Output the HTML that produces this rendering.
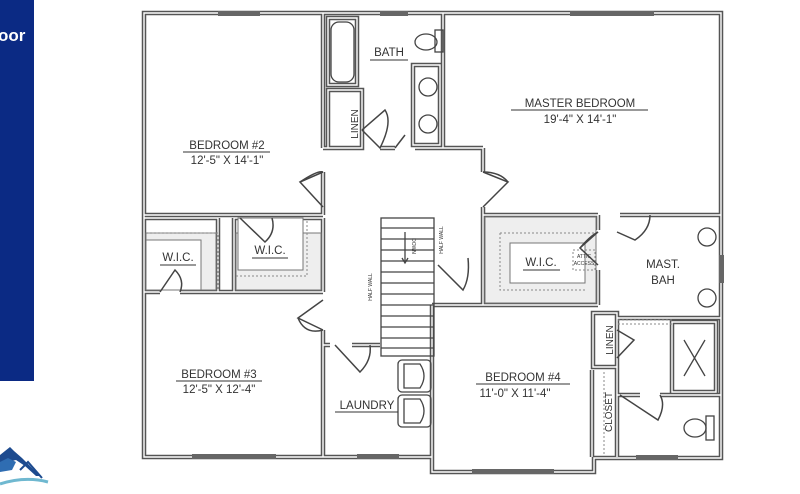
<!DOCTYPE html>
<html><head><meta charset="utf-8"><style>
html,body{margin:0;padding:0;background:#fff;width:800px;height:494px;overflow:hidden}
svg{display:block}
text{font-family:"Liberation Sans",sans-serif;fill:#333}
</style></head><body>
<svg width="800" height="494" viewBox="0 0 800 494" xmlns="http://www.w3.org/2000/svg">
<rect x="0" y="0" width="34" height="381" fill="#0b2a84"/>
<text x="-2" y="41" font-size="17" font-weight="bold" style="fill:#fff">oor</text>
<!-- logo -->
<path d="M0 455 L10 447 L14 451 L22 458 L30 466 L40 476 L36 476 L25 466 L16 460 L8 462 L0 468Z" fill="#1d4b8f"/>
<path d="M0 462 L8 458 L16 462 L12 470 L0 472Z" fill="#2f6db2"/>
<path d="M20 470 L28 462 L42 478" fill="none" stroke="#1d4b8f" stroke-width="2"/>
<path d="M0 484 Q25 476 48 482" fill="none" stroke="#6fb8d0" stroke-width="3"/>
<defs>
<path id="walls" d="
M144 13 H721 V458 H594 V472 H432 V457 H144 Z
M323 13 V148 M323 172 V215 M323 218 V292 M323 330 V457
M144 215 H323 M144 218 H218 M234 218 H323
M144 292 H160 M180 292 H323
M218 218 V292 M234 218 V292
M323 148 H362 M380 148 H395 M415 148 H483
M443 13 V148 M483 148 V172 M483 207 V215 M483 215 H598 M620 215 H721
M483 215 V305 H598 M598 215 V230 M598 270 V305
M323 345 H330 M352 345 H380
M432 305 V472 M432 305 H598
M593 313 H617 V367 H593 Z
M592 370 V457 M617 370 V457
M617 315 V385 M617 395 H640 M660 395 H721
M617 318 H721
M672 322 H716 V392 H672 Z
M328 18 H357 V85 H328 Z
M328 90 H362 V148 H328 Z
M413 65 H440 V145 H413 Z
"/>
</defs>
<use href="#walls" fill="none" stroke="#555" stroke-width="4.5"/>
<use href="#walls" fill="none" stroke="#fff" stroke-width="1.4"/>
<!-- windows -->
<g fill="#666">
<rect x="218" y="11" width="42" height="5"/><rect x="380" y="11" width="28" height="5"/>
<rect x="570" y="11" width="84" height="5"/>
<rect x="192" y="454" width="84" height="5"/><rect x="357" y="454" width="42" height="5"/>
<rect x="472" y="469" width="82" height="5"/><rect x="636" y="455" width="42" height="5"/>
<rect x="719" y="255" width="5" height="28"/>
</g>
<!-- closet fills -->
<g fill="#eee" stroke="#777" stroke-width="1">
<rect x="146" y="233" width="70" height="57"/>
<rect x="236" y="233" width="85" height="57"/>
<rect x="485" y="217" width="111" height="86"/>
</g>
<rect x="146" y="240" width="55" height="50" fill="#fff" stroke="#777"/>
<rect x="238" y="218" width="65" height="52" fill="#fff" stroke="#777"/>
<rect x="510" y="243" width="75" height="40" fill="#fff" stroke="#777"/>
<g fill="none" stroke="#888" stroke-dasharray="2,2">
<path d="M148 233 H218 V290"/><path d="M236 276 H307 V220"/>
<path d="M500 233 H594 M500 233 V290 H586"/>
<rect x="573" y="250" width="22" height="20"/>
<path d="M618 320 H672 M618 324 H672"/>
<path d="M604 372 V455"/>
</g>
<!-- doors -->
<g fill="none" stroke="#444" stroke-width="1.5">
<path d="M323 172 L300 182 L323 207"/><path d="M300 182 Q318 170 323 172"/>
<path d="M323 300 L298 318 L323 330"/><path d="M298 318 Q305 335 323 330"/>
<path d="M483 172 L508 182 L483 207"/><path d="M508 182 Q500 172 483 172"/>
<path d="M160 292 L175 270 Q185 280 180 292"/>
<path d="M240 218 L265 242 Q276 232 272 218"/>
<path d="M362 130 L385 110 Q393 122 380 148 L362 130" />
<path d="M395 148 L405 135"/>
<path d="M335 345 L360 372 Q372 360 370 345"/>
<path d="M438 265 L463 290 Q470 278 468 258"/>
<path d="M598 232 L580 248 L598 265"/><path d="M580 248 Q590 236 598 232"/>
<path d="M617 232 L635 240 Q650 230 650 215"/>
<path d="M617 330 L634 340 L617 358"/>
<path d="M620 395 L658 420 Q666 405 660 395"/>
</g>
<!-- stairs -->
<g stroke="#444" stroke-width="1.3" fill="none">
<rect x="381" y="218" width="53" height="138"/>
<path d="M381 228 H434 M381 239 H434 M381 250 H434 M381 261 H434 M381 272 H434 M381 283 H434 M381 294 H434 M381 305 H434 M381 316 H434 M381 327 H434 M381 338 H434 M381 348 H434"/>
<path d="M405 232 V262 M402 258 L405 263 L408 258"/>
</g>
<!-- fixtures -->
<g fill="none" stroke="#444" stroke-width="1.3">
<rect x="331" y="22" width="23" height="60" rx="8"/>
<ellipse cx="426" cy="42" rx="11" ry="8"/><rect x="435" y="30" width="8" height="22"/>
<circle cx="428" cy="87" r="9"/><circle cx="428" cy="124" r="9"/>
<circle cx="707" cy="237" r="9"/><circle cx="707" cy="298" r="9"/>
<path d="M684 340 L705 376 M705 340 L684 376"/>
<ellipse cx="695" cy="428" rx="11" ry="9"/><rect x="706" y="416" width="8" height="24"/>
<rect x="398" y="360" width="33" height="32" rx="4"/><rect x="398" y="395" width="33" height="32" rx="4"/>
<path d="M404 364 H420 Q428 376 420 388 H404Z M404 399 H420 Q428 411 420 423 H404Z"/>
</g>
<!-- labels -->
<g font-size="11.5" text-anchor="middle">
<text x="227" y="149">BEDROOM #2</text><path d="M183 152 H270" stroke="#333"/>
<text x="227" y="164">12'-5" X 14'-1"</text>
<text x="389" y="56">BATH</text><path d="M370 60 H408" stroke="#333"/>
<text x="580" y="107">MASTER BEDROOM</text><path d="M511 110 H648" stroke="#333"/>
<text x="580" y="123">19'-4" X 14'-1"</text>
<text x="178" y="261">W.I.C.</text><path d="M160 265 H196" stroke="#333"/>
<text x="270" y="254">W.I.C.</text><path d="M252 258 H288" stroke="#333"/>
<text x="541" y="266">W.I.C.</text><path d="M523 270 H560" stroke="#333"/>
<text x="663" y="268">MAST.</text><text x="663" y="284">BAH</text>
<text x="219" y="378">BEDROOM #3</text><path d="M176 381 H262" stroke="#333"/>
<text x="219" y="393">12'-5" X 12'-4"</text>
<text x="523" y="381">BEDROOM #4</text><path d="M476 384 H570" stroke="#333"/>
<text x="515" y="397">11'-0" X 11'-4"</text>
<text x="367" y="409">LAUNDRY</text><path d="M335 412 H398" stroke="#333"/>
</g>
<g font-size="10" text-anchor="middle">
<text transform="translate(358 124) rotate(-90)">LINEN</text>
<text transform="translate(613 340) rotate(-90)">LINEN</text>
<text transform="translate(612 412) rotate(-90)">CLOSET</text>
</g>
<g font-size="5" text-anchor="middle">
<text transform="translate(372 287) rotate(-90)">HALF WALL</text>
<text transform="translate(443 240) rotate(-90)">HALF WALL</text>
<text transform="translate(412 246) rotate(90)">DOWN</text>
<text x="584" y="258">ATTIC</text><text x="584" y="265">ACCESS</text>
</g>
</svg>
</body></html>
